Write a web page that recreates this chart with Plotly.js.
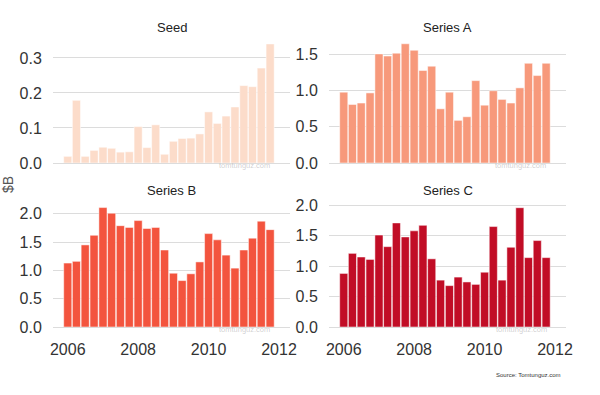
<!DOCTYPE html>
<html>
<head>
<meta charset="utf-8">
<script src="https://cdn.plot.ly/plotly-3.0.1.min.js"></script>
<style>html,body{margin:0;padding:0;background:#fff;}#chart{width:600px;height:395px;}</style>
</head>
<body>
<div id="chart"></div>
<script>
const quarters = ["2006-01-01","2006-04-01","2006-07-01","2006-10-01",
  "2007-01-01","2007-04-01","2007-07-01","2007-10-01",
  "2008-01-01","2008-04-01","2008-07-01","2008-10-01",
  "2009-01-01","2009-04-01","2009-07-01","2009-10-01",
  "2010-01-01","2010-04-01","2010-07-01","2010-10-01",
  "2011-01-01","2011-04-01","2011-07-01","2011-10-01"];

const seed = [0.019,0.179,0.019,0.036,0.045,0.042,0.031,0.032,0.104,0.044,0.109,0.025,
  0.062,0.070,0.071,0.083,0.146,0.113,0.134,0.160,0.221,0.218,0.271,0.340];
const seriesA = [0.98,0.81,0.83,0.97,1.51,1.48,1.52,1.65,1.56,1.28,1.34,0.75,
  0.98,0.59,0.64,1.14,0.80,1.00,0.88,0.83,1.04,1.38,1.21,1.38];
const seriesB = [1.13,1.16,1.45,1.62,2.11,2.01,1.79,1.76,1.88,1.74,1.76,1.36,
  0.95,0.82,0.94,1.15,1.65,1.54,1.27,1.04,1.36,1.57,1.87,1.72];
const seriesC = [0.88,1.21,1.15,1.11,1.51,1.32,1.71,1.48,1.58,1.67,1.12,0.77,
  0.68,0.82,0.74,0.70,0.90,1.65,0.77,1.31,1.96,1.14,1.42,1.14];

const panelNames = ["Seed","Series A","Series B","Series C"];
const panelColors = ["#fcdcca","#f7997b","#f3543e","#c10d26"];
const xTickLabels = ["2006","2008","2010","2012"];
const xTickVals = ["2006-01-01","2008-01-01","2010-01-01","2012-01-01"];

const allSeries = [seed, seriesA, seriesB, seriesC];
const barWidth = 84*86400000;

const traces = allSeries.map((vals,i)=>({
  type:'bar', x:quarters, y:vals,
  xaxis: i===0?'x':'x'+(i+1), yaxis: i===0?'y':'y'+(i+1),
  width: barWidth,
  marker:{color:panelColors[i], line:{color:'#fff', width:0.5}},
  hoverinfo:'skip', showlegend:false
}));

const font = "Liberation Sans, Arial, Helvetica, sans-serif";
const xdomL=[53/600,290/600], xdomR=[329/600,566/600];
const ydomT=[1-163/395,1-38/395], ydomB=[1-327/395,1-201/395];
function xa(dom, labels, anchor){
  return {domain:dom, type:'date', range:['2005-08-01','2012-04-24'],
    tickvals:xTickVals, ticktext:xTickLabels, showticklabels:labels,
    ticks:labels?'outside':'', ticklen:8, tickcolor:'rgba(0,0,0,0)',
    showgrid:false, zeroline:false, showline:false, anchor:anchor,
    tickfont:{family:font,size:16,color:'#333'}, fixedrange:true};
}
function ya(dom, range, dtick, anchor){
  return {domain:dom, range:range, dtick:dtick, tick0:0, tickformat:'.1f',
    ticks:'outside', ticklen:7, tickcolor:'rgba(0,0,0,0)',
    showgrid:true, gridcolor:'#dcdcdc', gridwidth:1,
    zeroline:true, zerolinecolor:'#dcdcdc', zerolinewidth:1, showline:false,
    anchor:anchor, tickfont:{family:font,size:16,color:'#333'}, fixedrange:true};
}

const titlePos = [[171.5,27],[447.5,27],[171.5,190],[447.5,190]];
const wmPos = [[272,165],[548,165],[272,329],[549,329]];
const annotations = [];
panelNames.forEach((n,i)=>{
  annotations.push({text:n, xref:'paper', yref:'paper', x:titlePos[i][0]/600, y:1-titlePos[i][1]/395,
    xanchor:'center', yanchor:'middle', showarrow:false, font:{family:font,size:13,color:'#222'}});
  annotations.push({text:'tomtunguz.com', xref:'paper', yref:'paper', x:wmPos[i][0]/600, y:1-wmPos[i][1]/395,
    xanchor:'right', yanchor:'middle', showarrow:false, font:{family:font,size:7.5,color:'rgba(150,150,150,0.45)'}});
});
annotations.push({text:'$B', xref:'paper', yref:'paper', x:8/600, y:1-185/395, xanchor:'center', yanchor:'middle',
  textangle:-90, showarrow:false, font:{family:font,size:14,color:'#555'}});
annotations.push({text:'Source: Tomtunguz.com', xref:'paper', yref:'paper', x:563/600, y:1-375/395,
  xanchor:'right', yanchor:'middle', showarrow:false, font:{family:font,size:6,color:'#333'}});

const layout = {
  width:600, height:395, margin:{l:0,r:0,t:0,b:0},
  paper_bgcolor:'#fff', plot_bgcolor:'#fff', bargap:0,
  xaxis: xa(xdomL,false,'y'), yaxis: ya(ydomT,[0,0.357],0.1,'x'),
  xaxis2: xa(xdomR,false,'y2'), yaxis2: ya(ydomT,[0,1.73],0.5,'x2'),
  xaxis3: xa(xdomL,true,'y3'), yaxis3: ya(ydomB,[0,2.226],0.5,'x3'),
  xaxis4: xa(xdomR,true,'y4'), yaxis4: ya(ydomB,[0,2.07],0.5,'x4'),
  annotations: annotations
};
Plotly.newPlot('chart', traces, layout, {displayModeBar:false, staticPlot:true});
</script>
</body>
</html>
